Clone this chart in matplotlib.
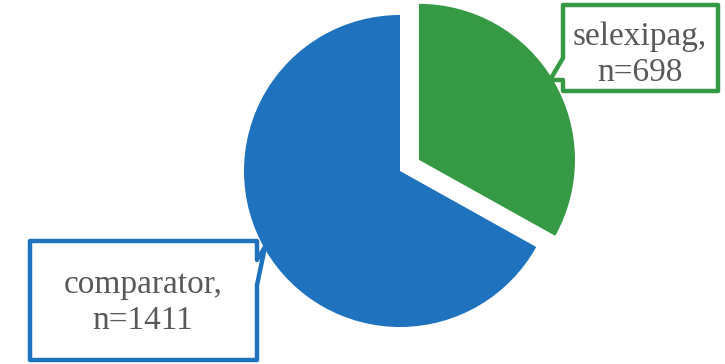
import matplotlib
matplotlib.use("Agg")
import matplotlib.pyplot as plt
from matplotlib.patches import Polygon

# Patient counts per arm
labels = ["selexipag", "comparator"]
counts = [698, 1411]
colors = ["#369a45", "#1f72bd"]

W, H = 725, 364
R = 156


def px(x, y):
    """Pixel coords (top-left origin) -> data coords."""
    return (x, H - y)


fig = plt.figure(figsize=(W / 100, H / 100), dpi=100)
ax = fig.add_axes([0, 0, 1, 1])

# explode is given in data units here since the radius is in pixels
ax.pie(counts, colors=colors, startangle=90, counterclock=False,
       center=px(400, 171), radius=R, explode=[22, 0],
       wedgeprops=dict(linewidth=0))

# callout boxes (outline with a pointer toward each wedge)
green_box = [(563, 5), (718, 5), (718, 91), (563, 91), (563, 80),
             (550, 80), (563, 58)]
blue_box = [(30, 241), (257, 241), (257, 260), (265, 247), (257, 285),
            (257, 360), (30, 360)]

for pts, col in [(green_box, colors[0]), (blue_box, colors[1])]:
    ax.add_patch(Polygon([px(x, y) for x, y in pts], closed=True,
                         facecolor="white", edgecolor=col, linewidth=3.2,
                         joinstyle="round", zorder=3))

txt = dict(ha="center", va="center", fontsize=24, color="#595959",
           family="Liberation Serif", linespacing=1.22, zorder=4)
ax.text(*px(640, 55), f"{labels[0]},\nn={counts[0]}", **txt)
ax.text(*px(143, 303), f"{labels[1]},\nn={counts[1]}", **txt)

ax.set_xlim(0, W)
ax.set_ylim(0, H)
ax.set_aspect("equal")
ax.axis("off")

fig.savefig("out.png", dpi=100)
